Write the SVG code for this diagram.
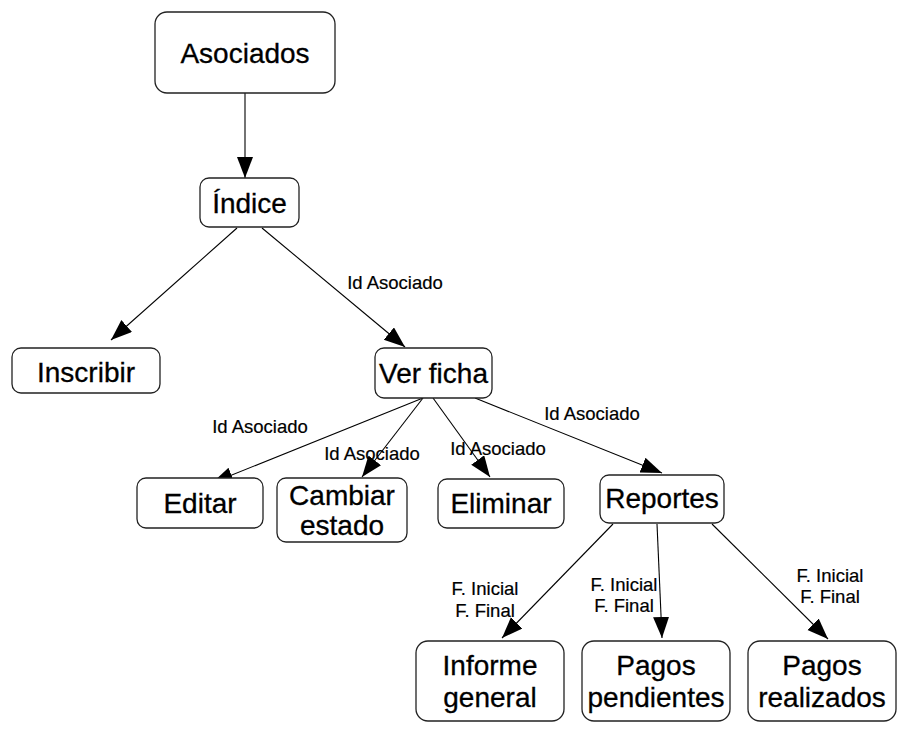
<svg xmlns="http://www.w3.org/2000/svg" width="911" height="746" viewBox="0 0 911 746">
<defs>
<marker id="arr" markerUnits="userSpaceOnUse" markerWidth="22" markerHeight="18" refX="21" refY="8" orient="auto">
<path d="M0,0 L21,8 L0,16 z" fill="#000"/>
</marker>
<style>
.box{fill:#fff;stroke:#222;stroke-width:1.3}
.t{font-family:"Liberation Sans",Arial,sans-serif;font-size:28px;fill:#000;stroke:#000;stroke-width:0.3;text-anchor:middle}
.l{font-family:"Liberation Sans",Arial,sans-serif;font-size:18.5px;fill:#000;stroke:#000;stroke-width:0.2;text-anchor:middle}
.c{stroke:#000;stroke-width:1.1;fill:none;marker-end:url(#arr)}
</style>
</defs>
<rect width="911" height="746" fill="#fff"/>
<g id="connectors">
<line class="c" x1="245" y1="93" x2="245" y2="178"/>
<line class="c" x1="237" y1="228" x2="111" y2="340"/>
<line class="c" x1="262" y1="228" x2="405" y2="347"/>
<line class="c" x1="423" y1="398" x2="212" y2="483"/>
<line class="c" x1="423" y1="398" x2="362" y2="477"/>
<line class="c" x1="433" y1="398" x2="490" y2="477"/>
<line class="c" x1="475" y1="398" x2="662" y2="473"/>
<line class="c" x1="613" y1="524" x2="502" y2="638"/>
<line class="c" x1="657" y1="524" x2="662" y2="638"/>
<line class="c" x1="712" y1="524" x2="828" y2="639"/>
<text class="l" x="395" y="289">Id Asociado</text>
<text class="l" x="260" y="433">Id Asociado</text>
<text class="l" x="372" y="460">Id Asociado</text>
<text class="l" x="498" y="455">Id Asociado</text>
<text class="l" x="592" y="420">Id Asociado</text>
<text class="l" x="485" y="595">F. Inicial</text>
<text class="l" x="485" y="617">F. Final</text>
<text class="l" x="624" y="591">F. Inicial</text>
<text class="l" x="624" y="612">F. Final</text>
<text class="l" x="830" y="582">F. Inicial</text>
<text class="l" x="830" y="603">F. Final</text>
</g>
<g id="asociados"><rect class="box" x="155" y="12" width="180" height="81" rx="12"/><text class="t" x="245" y="63">Asociados</text></g>
<g id="indice"><rect class="box" x="200" y="178" width="99" height="49" rx="9"/><text class="t" x="249.5" y="213">Índice</text></g>
<g id="inscribir"><rect class="box" x="12" y="348" width="148" height="45" rx="9"/><text class="t" x="86" y="382">Inscribir</text></g>
<g id="verficha"><rect class="box" x="375" y="348" width="117" height="50" rx="9"/><text class="t" x="433.5" y="383">Ver ficha</text></g>
<g id="editar"><rect class="box" x="137" y="478" width="126" height="50" rx="9"/><text class="t" x="200" y="513">Editar</text></g>
<g id="cambiar"><rect class="box" x="277" y="478" width="130" height="64" rx="9"/><text class="t" x="342" y="505">Cambiar</text><text class="t" x="342" y="535">estado</text></g>
<g id="eliminar"><rect class="box" x="438" y="479" width="126" height="49" rx="9"/><text class="t" x="501" y="513">Eliminar</text></g>
<g id="reportes"><rect class="box" x="600" y="475" width="124" height="48" rx="9"/><text class="t" x="662" y="508">Reportes</text></g>
<g id="informe"><rect class="box" x="416" y="641" width="148" height="80" rx="12"/><text class="t" x="490" y="675">Informe</text><text class="t" x="490" y="707">general</text></g>
<g id="pendientes"><rect class="box" x="582" y="641" width="148" height="80" rx="12"/><text class="t" x="656" y="675">Pagos</text><text class="t" x="656" y="707">pendientes</text></g>
<g id="realizados"><rect class="box" x="748" y="641" width="148" height="80" rx="12"/><text class="t" x="822" y="675">Pagos</text><text class="t" x="822" y="707">realizados</text></g>
</svg>
